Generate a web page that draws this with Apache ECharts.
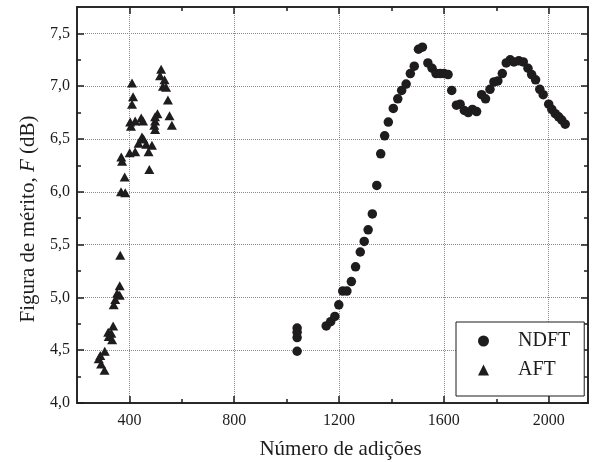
<!DOCTYPE html>
<html>
<head>
<meta charset="UTF-8">
<title>Figura de mérito</title>
<script src="https://cdn.jsdelivr.net/npm/echarts@6/dist/echarts.min.js"></script>
<style>
    html, body {margin: 0; padding: 0; background: #fff;}
    #main {width: 600px; height: 462px;}
</style>
</head>
<body>
<div id="main"></div>
<script>
    // NDFT (circulos)
    var ndftX = [1040,1040,1040,1040,1151,1168,1184,1199,1214,1230,1247,1263,1281,1296,1311,1327,1344,1359,1374,1388,
        1407,1424,1439,1456,1472,1487,1503,1518,1539,1555,1570,1586,1601,1616,1630,1648,1662,1678,1693,1709,
        1725,1744,1759,1776,1791,1806,1823,1838,1853,1867,1886,1903,1921,1935,1950,1966,1979,2000,2012,2025,
        2038,2050,2063];
    var ndftY = [4.49,4.62,4.67,4.71,4.73,4.77,4.82,4.93,5.06,5.06,5.15,5.29,5.43,5.53,5.64,5.79,6.06,6.36,6.53,6.66,
        6.79,6.88,6.96,7.02,7.12,7.19,7.35,7.37,7.22,7.17,7.12,7.12,7.12,7.11,6.96,6.82,6.83,6.77,6.75,6.78,
        6.76,6.92,6.88,6.97,7.04,7.05,7.12,7.22,7.25,7.23,7.24,7.23,7.17,7.11,7.06,6.97,6.92,6.83,6.78,6.74,
        6.71,6.68,6.64];
    // AFT (triangulos)
    var aftX = [521,517,534,528,540,410,414,410,547,507,498,553,445,452,422,403,406,498,495,562,
        498,448,454,435,464,486,369,401,422,473,372,476,382,368,384,365,363,353,363,346,
        340,338,319,331,321,334,306,289,283,292,305];
    var aftY = [7.16,7.10,7.06,7.00,6.99,7.03,6.90,6.83,6.87,6.74,6.71,6.72,6.70,6.67,6.67,6.66,6.62,6.67,6.63,6.63,
        6.59,6.52,6.50,6.46,6.45,6.44,6.33,6.37,6.38,6.38,6.29,6.21,6.14,6.00,5.99,5.40,5.11,5.04,5.02,4.98,
        4.93,4.73,4.67,4.66,4.63,4.60,4.49,4.45,4.42,4.37,4.31];

    var xMajor = [400, 800, 1200, 1600, 2000];
    var xMinor = [600, 1000, 1400, 1800];
    var yMajor = [4, 4.5, 5, 5.5, 6, 6.5, 7, 7.5];
    var yMinor = [4.25, 4.75, 5.25, 5.75, 6.25, 6.75, 7.25];

    var font = 'Liberation Serif';
    var ink = '#1e1c1d';

    function pairs(xs, ys) {
        return xs.map(function (x, i) { return [x, ys[i]]; });
    }

    var box = {left: 77, right: 12, top: 7, bottom: 59, outerBoundsMode: 'none'};

    // eixo so com tracos (topo/direita e tracos menores)
    function tickAxis(grid, pos, ticks, len, isX) {
        return {
            gridIndex: grid,
            type: 'value',
            position: pos,
            min: isX ? 200 : 4,
            max: isX ? 2150 : 7.75,
            interval: isX ? 200 : 0.25,
            axisLine: {show: true, onZero: false, lineStyle: {color: ink, width: 1.5}},
            axisTick: {show: true, inside: true, length: len, customValues: ticks, lineStyle: {color: ink, width: 1.5}},
            axisLabel: {show: false},
            splitLine: {show: false}
        };
    }

    var xMain = tickAxis(0, 'bottom', xMajor, 7, true);
    xMain.axisLabel = {show: true, customValues: xMajor, margin: 10, color: ink, fontFamily: font, fontSize: 16,
        formatter: function (v) { return String(v); }};
    xMain.splitLine = {show: true, lineStyle: {color: '#8a8a8a', type: 'dotted', width: 1}};
    xMain.name = 'Número de adições';
    xMain.nameLocation = 'middle';
    xMain.nameGap = 36;
    xMain.nameTextStyle = {color: ink, fontFamily: font, fontSize: 21, padding: [0, 0, 0, 16]};

    var yMain = tickAxis(0, 'left', yMajor, 7, false);
    yMain.axisLabel = {show: true, customValues: yMajor, margin: 7, color: ink, fontFamily: font, fontSize: 16,
        formatter: function (v) { return v.toFixed(1).replace('.', ','); }};
    yMain.splitLine = {show: true, lineStyle: {color: '#8a8a8a', type: 'dotted', width: 1}};
    yMain.name = '{a|Figura de mérito, }{i|F}{a| (dB)}';
    yMain.nameLocation = 'middle';
    yMain.nameGap = 38;
    yMain.nameTextStyle = {
        padding: [0, 28, 0, 0],
        rich: {
            a: {color: ink, fontFamily: font, fontSize: 21},
            i: {color: ink, fontFamily: font, fontSize: 21, fontStyle: 'italic'}
        }
    };

    var option = {
        animation: false,
        backgroundColor: '#fff',
        grid: [box, Object.assign({}, box)],
        xAxis: [
            xMain,
            tickAxis(0, 'top', xMajor, 7, true),
            tickAxis(1, 'bottom', xMinor, 4, true),
            tickAxis(1, 'top', xMinor, 4, true)
        ],
        yAxis: [
            yMain,
            tickAxis(0, 'right', yMajor, 7, false),
            tickAxis(1, 'left', yMinor, 4, false),
            tickAxis(1, 'right', yMinor, 4, false)
        ],
        legend: {
            orient: 'vertical',
            left: 456,
            top: 322,
            padding: [9, 14, 16, 22],
            itemGap: 9,
            itemWidth: 11,
            itemHeight: 11,
            borderColor: ink,
            borderWidth: 1,
            backgroundColor: '#fff',
            textStyle: {color: ink, fontFamily: font, fontSize: 20, lineHeight: 20, padding: [0, 0, 0, 24]},
            data: ['NDFT', 'AFT']
        },
        series: [
            {
                name: 'NDFT',
                type: 'scatter',
                xAxisIndex: 0,
                yAxisIndex: 0,
                symbol: 'circle',
                symbolSize: 9.5,
                itemStyle: {color: ink, opacity: 1},
                data: pairs(ndftX, ndftY)
            },
            {
                name: 'AFT',
                type: 'scatter',
                xAxisIndex: 0,
                yAxisIndex: 0,
                symbol: 'triangle',
                symbolSize: [10, 9],
                itemStyle: {color: ink, opacity: 1},
                data: pairs(aftX, aftY)
            }
        ]
    };

    var chart = echarts.init(document.getElementById('main'));
    chart.setOption(option);
</script>
</body>
</html>
